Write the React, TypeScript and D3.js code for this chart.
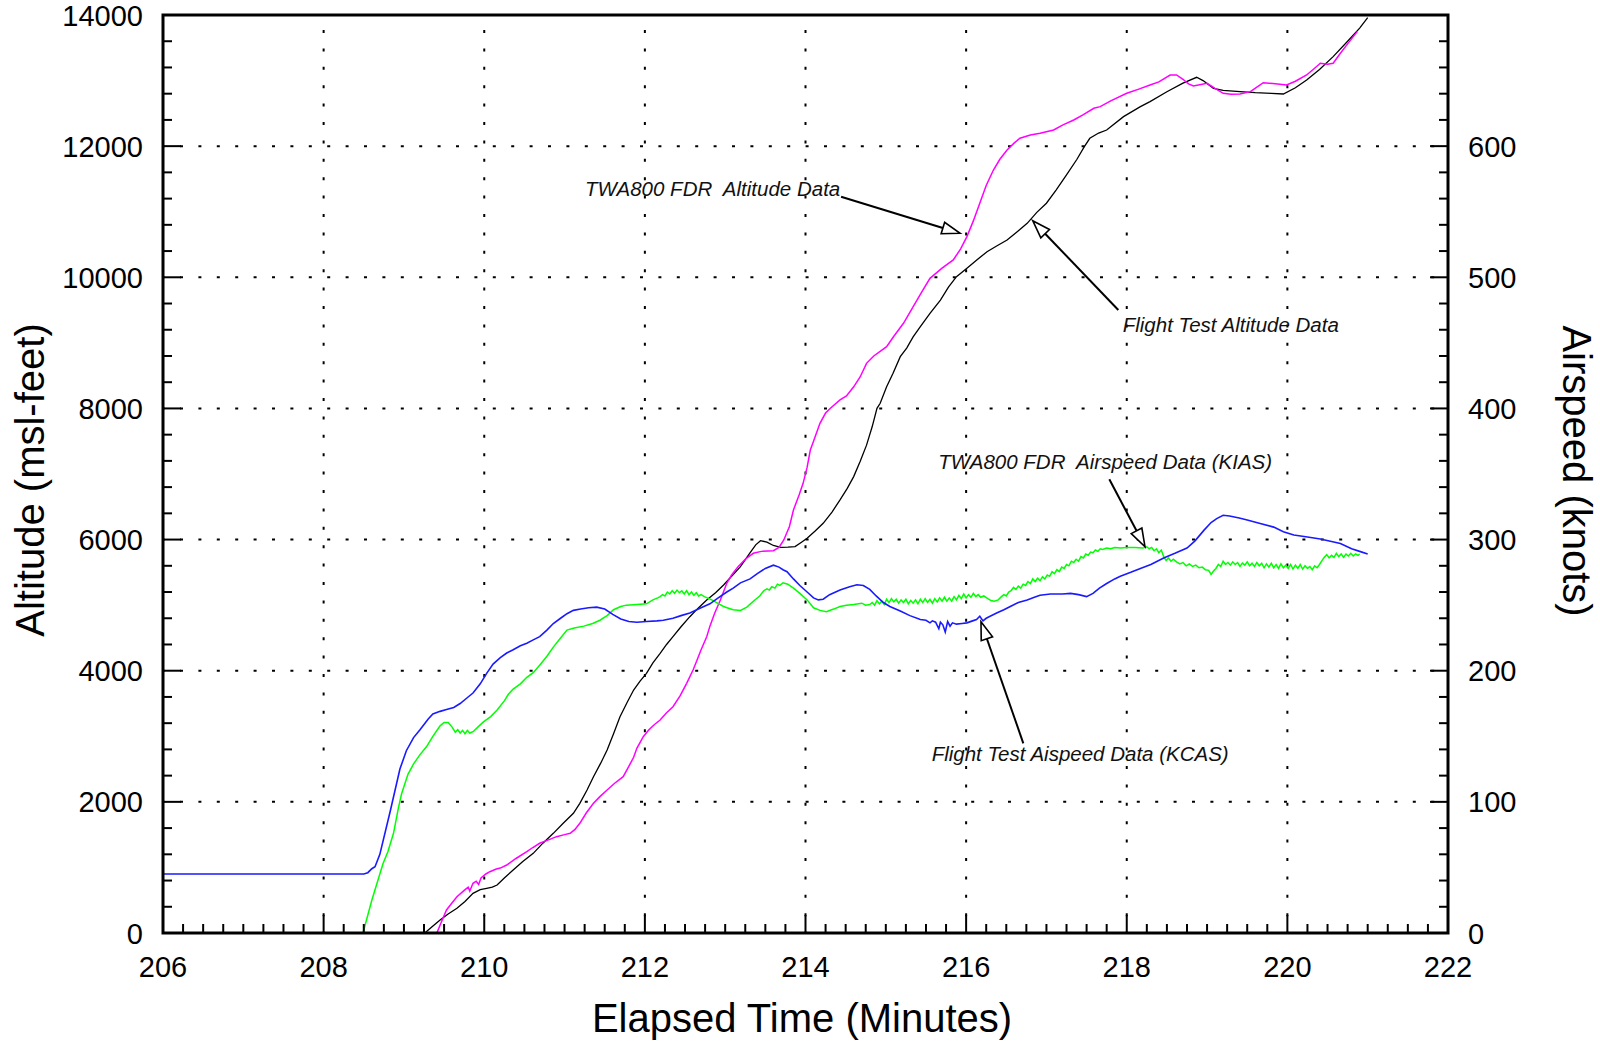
import React from 'react';
import * as d3 from 'd3';

// ---------- DATA ----------
const xTickValues = [206, 208, 210, 212, 214, 216, 218, 220, 222];
const altTickValues = [0, 2000, 4000, 6000, 8000, 10000, 12000, 14000];
const spdTickValues = [0, 100, 200, 300, 400, 500, 600];

// Flight test airspeed (KCAS), knots — blue
const flightTestKCAS: [number, number][] = [
  [206.0, 45], [208.5, 45], [208.55, 46], [208.6, 49], [208.64, 50.5], [208.7, 60], [208.83, 93], [208.95, 125],
  [209.03, 139], [209.12, 149], [209.2, 155], [209.3, 163], [209.36, 167], [209.45, 169], [209.53, 170.5],
  [209.62, 172], [209.7, 175], [209.78, 179], [209.86, 183], [209.95, 190], [210.03, 198], [210.11, 205],
  [210.2, 210], [210.28, 213.5], [210.36, 216], [210.45, 219], [210.53, 221], [210.61, 223.5], [210.69, 226],
  [210.78, 231], [210.86, 236], [210.95, 240], [211.03, 243.5], [211.11, 246], [211.2, 247], [211.3, 248],
  [211.4, 248.5], [211.5, 247], [211.6, 243], [211.7, 239.5], [211.8, 237.5], [211.9, 237], [212.02, 237.5],
  [212.15, 238], [212.23, 238.5], [212.35, 240], [212.45, 242], [212.56, 244], [212.7, 248], [212.81, 251],
  [212.9, 255], [213.02, 260], [213.1, 263], [213.19, 267], [213.31, 270], [213.4, 274], [213.5, 278],
  [213.6, 280.5], [213.67, 279], [213.72, 277], [213.77, 275.5], [213.85, 270], [213.93, 265], [214.02, 260],
  [214.1, 255.5], [214.16, 254], [214.22, 254.5], [214.3, 258], [214.43, 261.5], [214.55, 264], [214.64, 265.5],
  [214.72, 265], [214.8, 262], [214.88, 257], [214.97, 252], [215.05, 249], [215.18, 245.5], [215.3, 242],
  [215.43, 239], [215.5, 238.5], [215.55, 236.5], [215.58, 238], [215.62, 237], [215.66, 232], [215.68, 237],
  [215.71, 235], [215.74, 229.5], [215.77, 237.5], [215.8, 234], [215.83, 236.5], [215.88, 235.5], [215.95, 236],
  [216.01, 236.5], [216.08, 238], [216.13, 239], [216.17, 241.5], [216.21, 238], [216.25, 240], [216.28, 241],
  [216.38, 244], [216.47, 246.5], [216.55, 249], [216.65, 252], [216.76, 254], [216.85, 256], [216.92, 257.5],
  [217.05, 258.5], [217.2, 258.5], [217.3, 259], [217.4, 258], [217.5, 256.5], [217.58, 259], [217.66, 263],
  [217.75, 266.5], [217.85, 270], [217.92, 272], [218.05, 275], [218.17, 278], [218.3, 281], [218.46, 286],
  [218.6, 289.5], [218.75, 293.5], [218.85, 299], [218.96, 307], [219.05, 313], [219.12, 316], [219.2, 318.5],
  [219.28, 318], [219.4, 316.5], [219.5, 315], [219.65, 312.5], [219.83, 309.5], [219.95, 306], [220.08, 303.5],
  [220.25, 302], [220.41, 300.5], [220.55, 298.5], [220.66, 297], [220.8, 293], [220.9, 291], [221.0, 289],
];

// TWA800 FDR airspeed (KIAS), knots — green
const fdrKIAS: [number, number][] = [
  [208.49, 0], [208.6, 25], [208.74, 53], [208.8, 62], [208.87, 76], [208.93, 95], [208.97, 106], [209.05, 121],
  [209.12, 129], [209.2, 136], [209.28, 142], [209.36, 150], [209.45, 158], [209.5, 160.5], [209.55, 160.5],
  [209.6, 157], [209.64, 153], [209.67, 155], [209.7, 152.5], [209.73, 154.5], [209.76, 152], [209.79, 154.5],
  [209.82, 152.5], [209.86, 153.5], [209.92, 157], [209.99, 161], [210.08, 165], [210.16, 170], [210.25, 177],
  [210.3, 182], [210.36, 186], [210.45, 190], [210.53, 195], [210.61, 198.5], [210.7, 205], [210.78, 211],
  [210.86, 218], [210.95, 225], [211.03, 231], [211.12, 232.5], [211.24, 234], [211.35, 236], [211.44, 238.5],
  [211.53, 242], [211.61, 246.5], [211.7, 249], [211.77, 250], [211.9, 250.5], [212.02, 251], [212.1, 254],
  [212.16, 255.5], [212.19, 256.5], [212.22, 258], [212.25, 257], [212.28, 260], [212.31, 258.5], [212.34, 261],
  [212.37, 259], [212.4, 261.5], [212.43, 259.5], [212.46, 261], [212.49, 258.5], [212.52, 261], [212.55, 258],
  [212.58, 260], [212.61, 257.5], [212.64, 259.5], [212.67, 257], [212.7, 258], [212.74, 256.5], [212.8, 255],
  [212.85, 253.5], [212.92, 251], [212.98, 249], [213.05, 247.5], [213.1, 246.5], [213.19, 246], [213.27, 248.5],
  [213.35, 253], [213.43, 257], [213.48, 261], [213.52, 262.5], [213.55, 261.5], [213.58, 264], [213.62, 263],
  [213.65, 266], [213.68, 265], [213.72, 267], [213.78, 266], [213.85, 263], [213.93, 259], [214.02, 254],
  [214.1, 248], [214.18, 246], [214.26, 245], [214.35, 247], [214.43, 249], [214.51, 250], [214.6, 250.5],
  [214.7, 251.5], [214.75, 250], [214.8, 250.5], [214.83, 252], [214.86, 250], [214.89, 253.5], [214.92, 251],
  [214.95, 253], [214.98, 250.5], [215.01, 254.5], [215.04, 252], [215.07, 255], [215.1, 252.5], [215.13, 254.5],
  [215.16, 251.5], [215.19, 254], [215.22, 252], [215.25, 254.5], [215.28, 251], [215.31, 253.5], [215.34, 251.5],
  [215.37, 254], [215.4, 251], [215.43, 254.5], [215.46, 252], [215.49, 255], [215.52, 252], [215.55, 254.5],
  [215.58, 251.5], [215.61, 255], [215.64, 252.5], [215.67, 255.5], [215.7, 253], [215.73, 256], [215.76, 253],
  [215.79, 255.5], [215.82, 253], [215.85, 256.5], [215.88, 254], [215.91, 257.5], [215.94, 255], [215.97, 258.5],
  [216.0, 255.5], [216.03, 258], [216.06, 256], [216.09, 259], [216.12, 256.5], [216.15, 258], [216.18, 256],
  [216.22, 257], [216.27, 255], [216.31, 253.5], [216.35, 253], [216.4, 254], [216.44, 256.5], [216.47, 258],
  [216.5, 257], [216.53, 260], [216.56, 261], [216.59, 263.5], [216.62, 262], [216.65, 264.5], [216.68, 263],
  [216.71, 266], [216.74, 265], [216.77, 268], [216.8, 266.5], [216.83, 270], [216.86, 268], [216.89, 270.5],
  [216.92, 268.5], [216.95, 271.5], [216.98, 270], [217.01, 273], [217.04, 272], [217.07, 275.5], [217.1, 274],
  [217.13, 277], [217.16, 275.5], [217.19, 279], [217.22, 278], [217.25, 281], [217.28, 280], [217.31, 283.5],
  [217.34, 282.5], [217.37, 285], [217.4, 283.5], [217.43, 287], [217.46, 286], [217.49, 289], [217.52, 288],
  [217.55, 290.5], [217.58, 290], [217.61, 292], [217.64, 291], [217.67, 293], [217.7, 292.5], [217.75, 293.5],
  [217.8, 293], [217.85, 294], [217.92, 293.5], [218.0, 294], [218.1, 294], [218.2, 293.5], [218.25, 294.5],
  [218.28, 293], [218.31, 294], [218.34, 291.5], [218.37, 293], [218.4, 290], [218.43, 292], [218.46, 287],
  [218.49, 284], [218.52, 286], [218.55, 283.5], [218.58, 285], [218.62, 283], [218.66, 281.5], [218.7, 282.5],
  [218.74, 280], [218.78, 281.5], [218.82, 279.5], [218.86, 280.5], [218.9, 278.5], [218.94, 279], [218.98, 277],
  [219.02, 276.5], [219.05, 273.5], [219.08, 276], [219.11, 278], [219.14, 281], [219.17, 279.5], [219.2, 283.5],
  [219.23, 281], [219.26, 282.5], [219.29, 280.5], [219.32, 283], [219.35, 281], [219.38, 282.5], [219.41, 279.5],
  [219.44, 282], [219.47, 280.5], [219.5, 283], [219.53, 280], [219.56, 282], [219.59, 279.5], [219.62, 282.5],
  [219.65, 280], [219.68, 282], [219.71, 278.5], [219.74, 281.5], [219.77, 279], [219.8, 282], [219.83, 278.5],
  [219.86, 281], [219.89, 278], [219.92, 281.5], [219.95, 278.5], [219.98, 280.5], [220.01, 278], [220.04, 281],
  [220.07, 277.5], [220.1, 280.5], [220.13, 278], [220.16, 281], [220.19, 277.5], [220.22, 280], [220.25, 278],
  [220.28, 279.5], [220.31, 277], [220.34, 280], [220.37, 278.5], [220.4, 281], [220.43, 284], [220.46, 286.5],
  [220.49, 288.5], [220.52, 286], [220.55, 288], [220.58, 286.5], [220.61, 289.5], [220.64, 287], [220.67, 289],
  [220.7, 286.5], [220.73, 289], [220.76, 287.5], [220.79, 289.5], [220.82, 287.5], [220.85, 289], [220.88, 288],
  [220.9, 289],
];

// TWA800 FDR altitude, feet — magenta
const fdrAltitude: [number, number][] = [
  [208.49, 0], [209.35, 0], [209.41, 0], [209.47, 180], [209.53, 351], [209.6, 460], [209.66, 554], [209.75, 650],
  [209.8, 700], [209.82, 640], [209.86, 758], [209.9, 790], [209.93, 740], [209.96, 840], [210.02, 900],
  [210.07, 935], [210.15, 975], [210.2, 990], [210.28, 1037], [210.4, 1140], [210.53, 1240], [210.6, 1300],
  [210.69, 1368], [210.8, 1420], [210.9, 1469], [211.0, 1500], [211.07, 1520], [211.13, 1580], [211.19, 1673],
  [211.27, 1830], [211.36, 1978], [211.44, 2080], [211.53, 2181], [211.62, 2280], [211.73, 2384], [211.8, 2540],
  [211.86, 2680], [211.9, 2817], [211.98, 2994], [212.05, 3100], [212.12, 3180], [212.19, 3248], [212.27, 3360],
  [212.35, 3451], [212.44, 3620], [212.52, 3807], [212.6, 4011], [212.65, 4164], [212.7, 4320], [212.77, 4519],
  [212.81, 4680], [212.87, 4880], [212.94, 5078], [213.02, 5333], [213.08, 5460], [213.16, 5586], [213.25, 5700],
  [213.35, 5791], [213.45, 5820], [213.6, 5830], [213.67, 5880], [213.73, 5994], [213.8, 6200], [213.85, 6451],
  [213.92, 6680], [213.97, 6858], [214.02, 7100], [214.06, 7366], [214.1, 7500], [214.18, 7773], [214.25, 7930],
  [214.31, 8002], [214.43, 8129], [214.51, 8190], [214.6, 8330], [214.68, 8480], [214.76, 8688], [214.85, 8800],
  [215.01, 8942], [215.1, 9100], [215.22, 9298], [215.35, 9570], [215.45, 9780], [215.55, 9984], [215.7, 10140],
  [215.84, 10264], [215.93, 10430], [216.01, 10620], [216.09, 10860], [216.17, 11129], [216.25, 11400],
  [216.34, 11636], [216.42, 11800], [216.51, 11941], [216.6, 12050], [216.67, 12120], [216.8, 12170],
  [216.92, 12196], [217.09, 12246], [217.2, 12320], [217.34, 12399], [217.46, 12480], [217.59, 12577],
  [217.67, 12602], [217.8, 12690], [218.0, 12806], [218.15, 12870], [218.29, 12933], [218.4, 12980],
  [218.54, 13085], [218.62, 13085], [218.7, 13020], [218.77, 12950], [218.83, 12918], [219.0, 12959],
  [219.1, 12880], [219.2, 12806], [219.3, 12790], [219.41, 12795], [219.54, 12831], [219.62, 12900],
  [219.7, 12968], [219.85, 12950], [219.99, 12933], [220.1, 12990], [220.24, 13085], [220.35, 13200],
  [220.41, 13264], [220.5, 13250], [220.57, 13264], [220.66, 13416], [220.75, 13560], [220.87, 13747],
];

// Flight test altitude, feet — black
const flightTestAltitude: [number, number][] = [
  [209.26, 0], [209.35, 95], [209.45, 198], [209.55, 290], [209.66, 376], [209.76, 480], [209.86, 605],
  [209.95, 660], [210.03, 681], [210.1, 700], [210.16, 732], [210.25, 840], [210.36, 961], [210.48, 1090],
  [210.61, 1215], [210.73, 1370], [210.86, 1520], [210.98, 1670], [211.11, 1825], [211.19, 1978], [211.28, 2180],
  [211.36, 2384], [211.45, 2590], [211.53, 2791], [211.61, 3040], [211.69, 3299], [211.78, 3520], [211.86, 3706],
  [211.94, 3840], [212.02, 3960], [212.1, 4120], [212.19, 4265], [212.27, 4400], [212.35, 4519], [212.45, 4670],
  [212.56, 4824], [212.66, 4950], [212.77, 5078], [212.88, 5190], [212.98, 5307], [213.08, 5440], [213.19, 5587],
  [213.3, 5780], [213.38, 5920], [213.44, 5983], [213.52, 5960], [213.6, 5910], [213.69, 5882], [213.78, 5885],
  [213.87, 5892], [213.95, 5960], [214.02, 6019], [214.12, 6130], [214.22, 6248], [214.33, 6420], [214.43, 6604],
  [214.52, 6780], [214.6, 6960], [214.68, 7190], [214.76, 7440], [214.83, 7720], [214.89, 8002], [214.93, 8078],
  [215.01, 8330], [215.09, 8536], [215.18, 8790], [215.26, 8920], [215.34, 9090], [215.43, 9247], [215.55, 9450],
  [215.68, 9653], [215.78, 9850], [215.88, 10009], [216.01, 10137], [216.14, 10270], [216.26, 10390],
  [216.38, 10477], [216.51, 10569], [216.64, 10700], [216.76, 10823], [216.88, 10990], [217.0, 11129],
  [217.12, 11330], [217.25, 11560], [217.38, 11800], [217.47, 11990], [217.54, 12120], [217.65, 12200],
  [217.75, 12246], [217.96, 12450], [218.17, 12602], [218.29, 12679], [218.5, 12830], [218.7, 12960],
  [218.87, 13050], [218.95, 13000], [219.08, 12882], [219.2, 12850], [219.41, 12831], [219.6, 12815],
  [219.8, 12805], [219.95, 12795], [220.1, 12890], [220.24, 13009], [220.4, 13170], [220.57, 13365],
  [220.75, 13600], [220.9, 13800], [221.0, 13960],
];

// Annotations: label position, arrow start, arrow tip (in time / altitude units)
const annotationTexts = [
  'TWA800 FDR  Altitude Data',
  'Flight Test Altitude Data',
  'TWA800 FDR  Airspeed Data (KIAS)',
  'Flight Test Aispeed Data (KCAS)',
];
const annotationLabelAt: [number, number][] = [[211.255, 11240], [217.95, 9170], [215.653, 7072], [215.571, 2628]];
const annotationFrom: [number, number][] = [[214.443, 11229], [217.895, 9501], [217.783, 6919], [216.712, 2893]];
const annotationTo: [number, number][] = [[215.925, 10671], [216.829, 10863], [218.227, 5891], [216.185, 4747]];

// ---------- CHART ----------
const W = 1600;
const H = 1045;
const L = 163, R = 1448, T = 15, B = 933;
const FONT = '"Liberation Sans", Arial, Helvetica, sans-serif';

export default function App() {
  const x = d3.scaleLinear().domain([206, 222]).range([L, R]);
  const yAlt = d3.scaleLinear().domain([0, 14000]).range([B, T]);
  const ySpd = d3.scaleLinear().domain([0, 700]).range([B, T]);

  const altLine = d3.line<[number, number]>().x(d => x(d[0])).y(d => yAlt(d[1]));
  const spdLine = d3.line<[number, number]>().x(d => x(d[0])).y(d => ySpd(d[1]));

  const xMinor = d3.range(206, 222.001, 0.25);
  const yMinor = d3.range(0, 14000.1, 400);

  const gridX = xTickValues.filter(v => v > 206 && v < 222);
  const gridY = altTickValues.filter(v => v > 0 && v < 14000);

  const arrows = annotationTexts.map((txt, i) => {
    const [lx, ly] = [x(annotationLabelAt[i][0]), yAlt(annotationLabelAt[i][1])];
    const [sx, sy] = [x(annotationFrom[i][0]), yAlt(annotationFrom[i][1])];
    const [tx, ty] = [x(annotationTo[i][0]), yAlt(annotationTo[i][1])];
    const ang = Math.atan2(ty - sy, tx - sx);
    const len = 18, hw = 6;
    const bx = tx - len * Math.cos(ang), by = ty - len * Math.sin(ang);
    const px = -Math.sin(ang), py = Math.cos(ang);
    const tri = `${tx},${ty} ${bx + hw * px},${by + hw * py} ${bx - hw * px},${by - hw * py}`;
    return (
      <g key={i}>
        <text x={lx} y={ly} fontSize={20.5} fontStyle="italic" fontFamily={FONT} style={{ whiteSpace: 'pre' }} fill="#111">{txt}</text>
        <line x1={sx} y1={sy} x2={bx} y2={by} stroke="#000" strokeWidth={2} />
        <polygon points={tri} fill="#fff" stroke="#000" strokeWidth={1.6} />
      </g>
    );
  });

  return (
    <div style={{ position: 'fixed', left: 0, top: 0 }}>
      <svg width={W} height={H} viewBox={`0 0 ${W} ${H}`} style={{ display: 'block', background: '#fff' }}>
        <rect x={0} y={0} width={W} height={H} fill="#fff" />
        {/* grid */}
        {gridX.map(v => (
          <line key={'gx' + v} x1={x(v)} x2={x(v)} y1={T} y2={B} stroke="#000" strokeWidth={2} strokeDasharray="3 15.4" strokeDashoffset={-15} />
        ))}
        {gridY.map(v => (
          <line key={'gy' + v} x1={L} x2={R} y1={yAlt(v)} y2={yAlt(v)} stroke="#000" strokeWidth={2} strokeDasharray="3 15.4" strokeDashoffset={-17} />
        ))}
        {/* data */}
        <path d={altLine(flightTestAltitude) || ''} fill="none" stroke="#000" strokeWidth={1.3} />
        <path d={altLine(fdrAltitude) || ''} fill="none" stroke="#ff00ff" strokeWidth={1.5} />
        <path d={spdLine(fdrKIAS) || ''} fill="none" stroke="#00ff00" strokeWidth={1.5} />
        <path d={spdLine(flightTestKCAS) || ''} fill="none" stroke="#1a1aff" strokeWidth={1.6} />
        {/* ticks */}
        {xMinor.map(v => {
          const major = Math.abs(v / 2 - Math.round(v / 2)) < 1e-6;
          return <line key={'xt' + v} x1={x(v)} x2={x(v)} y1={B} y2={B - (major ? 18 : 9)} stroke="#000" strokeWidth={2} />;
        })}
        {yMinor.map(v => {
          const major = v % 2000 === 0;
          const len = major ? 18 : 9;
          return (
            <g key={'yt' + v}>
              <line x1={L} x2={L + len} y1={yAlt(v)} y2={yAlt(v)} stroke="#000" strokeWidth={2} />
              <line x1={R} x2={R - len} y1={yAlt(v)} y2={yAlt(v)} stroke="#000" strokeWidth={2} />
            </g>
          );
        })}
        {/* frame */}
        <rect x={L} y={T} width={R - L} height={B - T} fill="none" stroke="#000" strokeWidth={3} />
        {/* tick labels */}
        {xTickValues.map(v => (
          <text key={'xl' + v} x={x(v)} y={977} textAnchor="middle" fontSize={29} fontFamily={FONT} fill="#000">{v}</text>
        ))}
        {altTickValues.map(v => (
          <text key={'al' + v} x={143} y={yAlt(v) + 10.5} textAnchor="end" fontSize={29} fontFamily={FONT} fill="#000">{v}</text>
        ))}
        {spdTickValues.map(v => (
          <text key={'sl' + v} x={1468} y={ySpd(v) + 10.5} textAnchor="start" fontSize={29} fontFamily={FONT} fill="#000">{v}</text>
        ))}
        {/* axis titles */}
        <text x={802} y={1032} textAnchor="middle" fontSize={40} fontFamily={FONT} fill="#000">Elapsed Time (Minutes)</text>
        <text transform="translate(44,480) rotate(-90)" textAnchor="middle" fontSize={40} fontFamily={FONT} fill="#000">Altitude (msl-feet)</text>
        <text transform="translate(1563,471) rotate(90)" textAnchor="middle" fontSize={40} fontFamily={FONT} fill="#000">Airspeed (knots)</text>
        {arrows}
      </svg>
    </div>
  );
}
